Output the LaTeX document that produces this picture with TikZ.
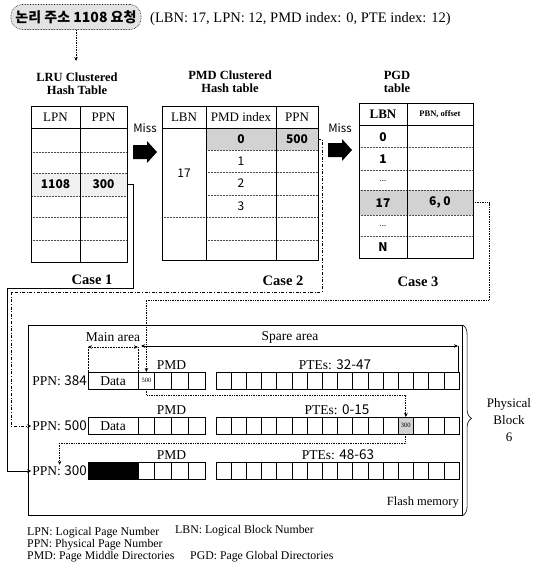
\documentclass[tikz,border=0pt]{standalone}
\usepackage{fontspec}
\setmainfont{Liberation Serif}
\newfontfamily\krfont{Noto Sans CJK KR}
\newfontfamily\numfont{Noto Sans CJK KR}
\usetikzlibrary{arrows.meta,decorations.pathreplacing,calc}
\newcommand\fsz[2]{\fontsize{#1}{#2}\selectfont}
\begin{document}
\begin{tikzpicture}[x=1pt,y=-1pt,
  reqbox/.style={draw, densely dotted, line width=0.6pt, fill=gray!22, rounded corners=11pt, minimum width=130pt, minimum height=25pt, inner sep=0pt},
  ttl/.style={align=center, font=\bfseries\fsz{12.5}{13}, inner sep=0pt},
  hdr/.style={font=\fsz{13}{13}, inner sep=0pt},
  num/.style={font=\numfont\fsz{12}{12}, inner sep=0pt},
  bnum/.style={font=\numfont\bfseries\fsz{12}{12}, inner sep=0pt},
  tbl/.style={line width=0.7pt},
  rowl/.style={densely dotted, line width=0.5pt, gray!60!black},
  casel/.style={font=\bfseries\fsz{14.5}{14.5}, inner sep=0pt},
  misst/.style={font=\numfont\fsz{11.5}{11.5}, inner sep=0pt},
  lbl/.style={font=\fsz{13.5}{13.5}, inner sep=0pt},
  pcell/.style={draw, line width=0.6pt},
  anc/.style={inner sep=0pt, outer sep=0pt},
  leg/.style={font=\fsz{11.8}{12}, inner sep=0pt, anchor=base west},
  myarrow/.style={-{Stealth[length=4pt,width=3.5pt]}},
  c1line/.style={myarrow, line width=0.9pt},
  c2line/.style={myarrow, line width=1pt, dash pattern=on 3pt off 1.6pt on 1pt off 1.6pt},
  c3line/.style={myarrow, line width=0.7pt, densely dotted},
]
\useasboundingbox (0,0) rectangle (546,574);

% request
\node[reqbox] (req) at (76,17) {\krfont\bfseries\fsz{14}{16}논리 주소 1108 요청};
\node[anchor=west, inner sep=0pt, font=\fsz{14.5}{16}] (reqinfo) at (150,19) {(LBN: 17, LPN: 12, PMD index: 0, PTE index: 12)};
\coordinate (reqend) at (76,61);
\draw[c3line, line width=0.6pt] (req.south) -- (reqend);

% titles
\node[ttl] (lrutitle) at (77,83.5) {LRU Clustered\\Hash Table};
\node[ttl] (pmdtitle) at (230,82) {PMD Clustered\\Hash table};
\node[ttl] (pgdtitle) at (397,82) {PGD\\table};

% LRU table
\fill[gray!12] (31,173) rectangle (127,196);
\draw[rowl] (31,173) rectangle (127,196);
\foreach \yy in {152,217,240} \draw[rowl] (31,\yy) -- (127,\yy);
\draw[tbl] (31,106) rectangle (127,262);
\draw[tbl] (31,128) -- (127,128);
\draw[tbl] (80,106) -- (80,262);
\node[hdr] (lrulpn) at (55.5,117) {LPN};
\node[hdr] (lruppn) at (103.5,117) {PPN};
\node[bnum, minimum width=49pt, minimum height=23pt] (lru1108) at (55.5,184.5) {1108};
\node[bnum, minimum width=47pt, minimum height=23pt] (lru300) at (103.5,184.5) {300};
\node[casel] (case1) at (92,280) {Case 1};

% Miss arrows
\node[misst] (miss1) at (145,128) {Miss};
\fill (133,145) -- (147,145) -- (147,141) -- (157,152) -- (147,163) -- (147,159) -- (133,159) -- cycle;
\node[misst] (miss2) at (340,128) {Miss};
\fill (328,143) -- (342,143) -- (342,139) -- (352,150) -- (342,161) -- (342,157) -- (328,157) -- cycle;

% PMD table
\fill[gray!35] (206,128) rectangle (318,150);
\foreach \yy in {150,172,195,240} \draw[rowl] (206,\yy) -- (318,\yy);
\draw[rowl] (162,217) -- (318,217);
\draw[tbl] (162,106) rectangle (318,260);
\draw[tbl] (162,128) -- (318,128);
\draw[tbl] (206,106) -- (206,260);
\draw[tbl] (276,106) -- (276,260);
\node[hdr] (pmdlbn) at (184,117) {LBN};
\node[hdr] (pmdidx) at (241,117) {PMD index};
\node[hdr] (pmdppn) at (297,117) {PPN};
\node[num] (pmd17) at (184,173) {17};
\node[bnum] (pmd0) at (241,139) {0};
\node[bnum, minimum width=42pt, minimum height=22pt] (pmd500) at (297,139) {500};
\node[num] (pmd1) at (241,161) {1};
\node[num] (pmd2) at (241,183.5) {2};
\node[num] (pmd3) at (241,206) {3};
\node[casel] (case2) at (283,281) {Case 2};

% PGD table
\fill[gray!35] (359,190) rectangle (473,215);
\foreach \yy in {147,170,190,215,236} \draw[rowl] (359,\yy) -- (473,\yy);
\draw[tbl] (359,103) rectangle (473,258);
\draw[tbl] (359,125) -- (473,125);
\draw[tbl] (407,103) -- (407,258);
\node[hdr, font=\bfseries\fsz{13}{13}] (pgdlbn) at (383,114) {LBN};
\node[hdr, font=\bfseries\fsz{8.5}{9}] (pgdpbn) at (440,114) {PBN, offset};
\node[bnum] (pgd0) at (383,137) {0};
\node[bnum] (pgd1) at (383,159) {1};
\node[num, font=\numfont\fsz{8}{8}] (pgdd1) at (383,181) {...};
\node[bnum] (pgd17) at (383,203) {17};
\node[bnum, minimum width=66pt, minimum height=25pt] (pgd60) at (440,202.5) {6, 0};
\node[num, font=\numfont\fsz{8}{8}] (pgdd2) at (383,226) {...};
\node[bnum] (pgdn) at (383,247) {N};
\node[casel] (case3) at (418,282) {Case 3};

% Flash memory
\node[draw, line width=0.6pt, minimum width=434pt, minimum height=190pt, anchor=north west, inner sep=0pt] (flash) at (28,325) {};
\node[anchor=base east, inner sep=0pt, font=\fsz{12.5}{14}] (flashlbl) at (459,505) {Flash memory};
\draw[line width=0.6pt, decorate, decoration={brace, amplitude=9pt, aspect=0.49}] (flash.north east) -- (flash.south east);
\node[align=center, inner sep=0pt, font=\fsz{13}{17}] (pblock) at (509,420) {Physical\\Block\\6};

% page cells
\fill (88,462) rectangle (138,479);
\fill[gray!35] ({216+12*15.1875},417) rectangle ({216+13*15.1875},434);
\foreach \yy in {372,417,462} {
  \draw[pcell] (88,\yy) rectangle (138,{\yy+17});
  \foreach \i in {0,...,3} \draw[pcell] ({138+\i*16.75},\yy) rectangle ({138+(\i+1)*16.75},{\yy+17});
  \foreach \i in {0,...,15} \draw[pcell] ({216+\i*15.1875},\yy) rectangle ({216+(\i+1)*15.1875},{\yy+17});
}
\node[lbl] (data1) at (113,381) {Data};
\node[lbl] (data2) at (113,426) {Data};
\node[anc, minimum width=16.75pt, minimum height=17pt, font=\fsz{6.5}{7}] (r1c500) at (146.375,380.5) {500};
\node[anc, minimum width=15.1875pt, minimum height=17pt, font=\fsz{6.5}{7}] (r2c300) at ({216+12.5*15.1875},425.5) {300};

\node[lbl, anchor=east, inner sep=1pt] (ppn384) at (88,381) {PPN: {\numfont 384}};
\node[lbl, anchor=east, inner sep=1pt] (ppn500) at (88,426) {PPN: {\numfont 500}};
\node[lbl, anchor=east, inner sep=1pt] (ppn300) at (88,471) {PPN: {\numfont 300}};

\node[lbl] (pmdl1) at (171.5,365) {PMD};
\node[lbl] (ptel1) at (335,365) {PTEs: {\numfont 32-47}};
\node[lbl] (pmdl2) at (171.5,410) {PMD};
\node[lbl] (ptel2) at (337,410) {PTEs: {\numfont 0-15}};
\node[lbl] (pmdl3) at (171.5,455) {PMD};
\node[lbl] (ptel3) at (338,455) {PTEs: {\numfont 48-63}};

% main / spare area
\node[lbl] (mainlbl) at (113,337) {Main area};
\node[lbl] (sparelbl) at (290,337) {Spare area};
\coordinate (ma1) at (88,347);
\coordinate (ma2) at (138,347);
\coordinate (sa1) at (141,346);
\coordinate (sa2) at (458,346);
\draw[densely dotted, line width=0.6pt, {Stealth[length=4pt,width=3.5pt]}-{Stealth[length=4pt,width=3.5pt]}] (ma1) -- (ma2);
\draw[line width=0.5pt, {Stealth[length=4pt,width=3.5pt]}-{Stealth[length=4pt,width=3.5pt]}] (sa1) -- (sa2);
\draw[densely dotted, line width=0.5pt] (ma1) -- (88,372);
\draw[densely dotted, line width=0.5pt] (ma2) -- (138,372);
\draw[line width=0.5pt] (sa2) -- (458,372);

% connectors
\draw[c1line] (lru300.east) -- (133,184.5) -- (133,288) -- (7,288) |- (ppn300.west);
\draw[c2line] (pmd500.east) -- (322,139) -- (322,292) -- (11,292) |- (ppn500.west);
\draw[c3line] (pgd60.east) -- (489,202.5) -- (489,300) -- (146.375,300) -- (r1c500.north);
\draw[c3line] (r1c500.south) -- ++(0,6) -| (r2c300.north);
\draw[c3line] (r2c300.south) -- ++(0,9) -| (ppn300.north);

% legend
\node[leg] (lg1) at (27,535.5) {LPN: Logical Page Number};
\node[leg] (lg2) at (175,533.5) {LBN: Logical Block Number};
\node[leg] (lg3) at (27,547) {PPN: Physical Page Number};
\node[leg] (lg4) at (27,559) {PMD: Page Middle Directories};
\node[leg] (lg5) at (190,559) {PGD: Page Global Directories};
\end{tikzpicture}
\end{document}
